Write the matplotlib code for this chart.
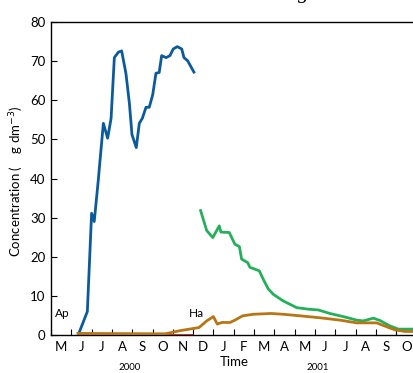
import matplotlib
matplotlib.use("Agg")
import matplotlib.pyplot as plt

plt.rcParams['font.family'] = ['Lato', 'DejaVu Sans']

# months counted from 1 May 2000
ap_t = [1.34, 1.79, 2.00, 2.13, 2.33, 2.38, 2.58, 2.79, 2.96, 3.12, 3.32, 3.48, 3.69, 3.86,
        3.99, 4.20, 4.35, 4.50, 4.68, 4.84, 5.01, 5.17, 5.33, 5.45, 5.67, 5.86, 6.02, 6.22,
        6.44, 6.55, 6.73, 7.04]
ap_v = [0, 6, 31.1, 29, 39.6, 42.6, 54.1, 50.3, 55.4, 70.9, 72.3, 72.6, 66.9, 59.3,
        51.2, 47.9, 54.1, 55.4, 58.2, 58.2, 61.4, 66.9, 67.1, 71.4, 70.9, 71.4, 73.1, 73.7,
        73.1, 70.9, 70.1, 67.2]

gr_t = [7.37, 7.67, 7.97, 8.29, 8.37, 8.78, 9.06, 9.28, 9.39, 9.69, 9.80, 10.26, 10.46,
        10.70, 10.95, 11.44, 12.10, 12.67, 13.17, 13.74, 14.40, 15.06, 15.38, 15.88, 16.21,
        16.70, 17.11, 17.88]
gr_v = [31.8, 26.7, 24.9, 27.9, 26.3, 26.2, 23.2, 22.6, 19.4, 18.5, 17.3, 16.4, 14.2,
        11.8, 10.4, 8.7, 7.0, 6.6, 6.4, 5.5, 4.7, 3.8, 3.6, 4.3, 3.7,
        2.3, 1.5, 1.5]

ha_t = [1.33, 5.62, 6.35, 7.29, 7.67, 8.00, 8.19, 8.41, 8.82, 9.06, 9.44, 9.97, 10.84,
        11.44, 12.27, 13.25, 14.24, 15.06, 16.04, 16.54, 16.95, 17.44, 17.88]
ha_v = [0.4, 0.3, 1.1, 1.9, 3.6, 4.7, 2.8, 3.2, 3.2, 3.8, 4.9, 5.3, 5.5,
        5.3, 4.9, 4.4, 3.8, 3.1, 3.1, 2.1, 1.3, 0.9, 0.9]

red_t = [1.33, 7.0]
red_v = [0, 0]

month_labels = ['M', 'J', 'J', 'A', 'S', 'O', 'N', 'D', 'J', 'F', 'M', 'A', 'M', 'J', 'J', 'A', 'S', 'O']

W, H = 414, 373
fig = plt.figure(figsize=(W / 100, H / 100), dpi=100)
x0, x1 = 51, 422
ax = fig.add_axes([x0 / W, 1 - 335 / H, (x1 - x0) / W, (335 - 22) / H])
ax.set_xlim(0, (x1 - x0) / 20.3)
ax.set_ylim(0, 80)

ax.plot(red_t, red_v, color='#e8403a', lw=2.2, solid_capstyle='butt', zorder=2)
ax.plot(ap_t, ap_v, color='#0b5b9c', lw=2.0, zorder=3)
ax.plot(gr_t, gr_v, color='#24b05a', lw=2.0, zorder=3)
ax.plot(ha_t, ha_v, color='#b87514', lw=2.0, zorder=4)

ax.spines['right'].set_visible(False)
for s in ax.spines.values():
    s.set_linewidth(1.0)

ax.set_yticks(range(0, 81, 10))
ax.tick_params(axis='y', direction='in', length=4, labelsize=9.5, pad=4)
ax.set_xticks(range(0, 18))
ax.set_xticklabels([])
ax.set_xticks([i + 0.5 for i in range(len(month_labels))], minor=True)
ax.set_xticklabels(month_labels, minor=True)
ax.tick_params(axis='x', which='major', direction='in', length=4)
ax.tick_params(axis='x', which='minor', length=0, labelsize=9.5, pad=4)

ax.text(0.54, 5.6, 'Ap', fontsize=8.5, ha='center', va='center')
ax.text(7.14, 5.6, 'Ha', fontsize=8.5, ha='center', va='center')

fig.text(17 / W, 1 - 181 / H, 'Concentration (    g dm$^{-3}$)', rotation=90,
         ha='center', va='center', fontsize=9.5)
fig.text(234 / W, 1 - 362 / H, 'Time', ha='center', va='center', fontsize=9.5)
fig.text(130 / W, 1 - 368 / H, '2000', ha='center', va='center', fontsize=7)
fig.text(318 / W, 1 - 368 / H, '2001', ha='center', va='center', fontsize=7)
fig.text(302 / W, 1 + 1 / H, 'g', ha='center', va='baseline', fontsize=14, family='DejaVu Serif')

fig.savefig('out.png', dpi=100)
